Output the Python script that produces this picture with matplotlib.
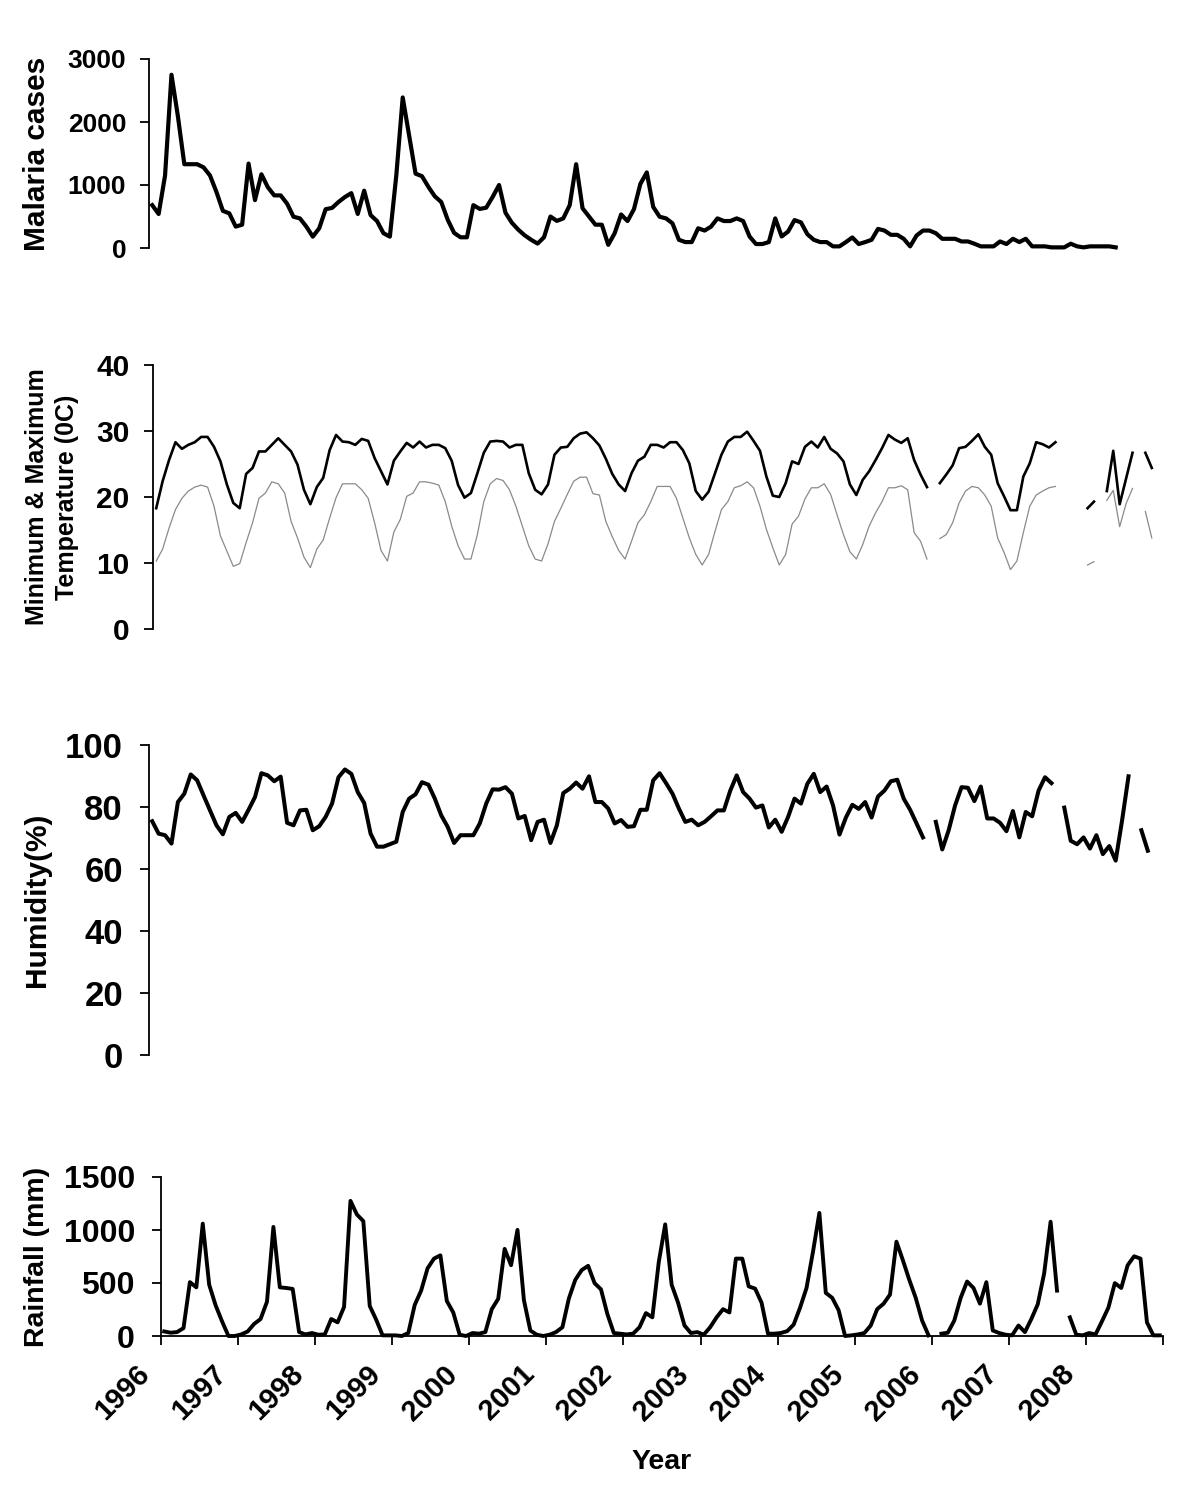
import numpy as np
import matplotlib
matplotlib.use('Agg')
import matplotlib.pyplot as plt

NaN = np.nan

years = [str(y) for y in range(1996, 2009)]

malaria = [680, 540, 1150, 2750, 2090, 1330, 1330, 1330, 1280, 1150,
           890, 590, 550, 340, 370, 1340, 760, 1170, 965, 835,
           835, 704, 496, 470, 339, 180, 313, 616, 636, 730,
           809, 871, 540, 910, 522, 428, 235, 180, 1150, 2390,
           1780, 1180, 1140, 970, 820, 730, 450, 240, 170, 170,
           680, 620, 640, 810, 1000, 560, 400, 290, 200, 130,
           70, 170, 500, 430, 470, 680, 1330, 630, 500, 370,
           370, 50, 235, 532, 428, 616, 1017, 1200, 652, 496,
           470, 391, 130, 94, 94, 313, 277, 339, 470, 428,
           428, 470, 428, 183, 63, 63, 94, 470, 183, 261,
           443, 407, 219, 130, 94, 94, 26, 26, 94, 167,
           63, 94, 130, 303, 277, 209, 209, 146, 26, 198,
           277, 277, 235, 146, 146, 146, 104, 104, 68, 26,
           26, 26, 104, 63, 146, 94, 146, 26, 26, 26,
           10, 10, 10, 68, 26, 10, 26, 26, 26, 26, 10]

tmax = [18.3, 22.4, 25.6, 28.3, 27.3, 27.9, 28.3, 29.1, 29.1, 27.6,
        25.4, 21.9, 19.1, 18.3, 23.5, 24.4, 26.9, 26.9, 27.9, 28.9,
        27.9, 26.9, 24.9, 21.1, 18.9, 21.5, 22.9, 27.1, 29.4, 28.4,
        28.3, 27.9, 28.8, 28.5, 25.9, 23.9, 21.9, 25.5, 26.9, 28.2,
        27.5, 28.4, 27.5, 27.9, 27.9, 27.4, 25.5, 21.8, 19.9, 20.6,
        23.6, 26.7, 28.4, 28.5, 28.4, 27.5, 27.9, 27.9, 23.6, 21.1,
        20.4, 21.9, 26.4, 27.5, 27.6, 28.9, 29.6, 29.8, 28.9,
        27.8, 25.8, 23.5, 21.9, 20.9, 23.6, 25.5, 26.1, 27.9, 27.9,
        27.5, 28.3, 28.3, 27.1, 25.1, 20.9, 19.6, 20.8, 23.6, 26.4,
        28.4, 29.1, 29.1, 29.9, 28.5, 27.0, 23.1, 20.2, 20.0, 22.1,
        25.4, 25.0, 27.6, 28.4, 27.5, 29.1, 27.3, 26.6, 25.4, 21.9,
        20.3, 22.6, 23.9, 25.6, 27.4, 29.4, 28.7, 28.2, 28.9, 25.6,
        23.4, 21.5,
        NaN,
        22.1, 23.4, 24.8, 27.4, 27.6, 28.5, 29.5, 27.6, 26.4, 22.1,
        20.1, 18.0, 18.0, 23.1, 25.1, 28.3, 28.0, 27.5, 28.3,
        NaN, NaN, NaN, NaN,
        18.3, 19.3, NaN, 20.9, 27.0, 18.9, 22.8, 26.7, NaN, 26.7, 24.4]

tmin = [10.3, 12.1, 15.3, 18.1, 19.8, 20.9, 21.5, 21.8, 21.5, 18.6,
        14.1, 11.8, 9.5, 9.9, 13.1, 16.1, 19.8, 20.6, 22.3, 22.0,
        20.6, 16.3, 13.8, 10.9, 9.3, 12.1, 13.5, 16.8, 19.9, 22.0,
        22.0, 22.0, 21.1, 19.8, 16.1, 11.9, 10.3, 14.7, 16.6, 20.1,
        20.6, 22.3, 22.3, 22.1, 21.8, 19.3, 15.6, 12.6, 10.6, 10.6,
        14.3, 19.3, 22.0, 22.8, 22.5, 21.1, 18.6, 15.6, 12.6, 10.6,
        10.3, 12.9, 16.3, 18.3, 20.4, 22.4, 23.0, 23.0, 20.5,
        20.3, 16.3, 14.0, 11.9, 10.6, 13.3, 16.1, 17.3, 19.3, 21.6,
        21.6, 21.6, 19.8, 16.8, 13.8, 11.3, 9.7, 11.3, 14.8, 18.1,
        19.3, 21.4, 21.7, 22.3, 21.4, 18.6, 15.1, 12.3, 9.7, 11.3,
        15.9, 17.1, 19.7, 21.4, 21.4, 22.0, 20.4, 17.3, 14.3, 11.7,
        10.6, 12.8, 15.6, 17.6, 19.3, 21.4, 21.4, 21.7, 21.1, 14.6,
        13.3, 10.6,
        NaN,
        13.7, 14.3, 16.1, 19.1, 20.9, 21.6, 21.4, 20.3, 18.6, 13.8,
        11.6, 9.0, 10.3, 14.6, 18.6, 20.3, 20.9, 21.4, 21.6,
        NaN, NaN, NaN, NaN,
        9.7, 10.2, NaN, 19.5, 21.0, 15.5, 19.0, 21.3, NaN, 17.8, 13.8]

humidity = [75.4, 71.4, 70.9, 68.2, 81.6, 84.3, 90.5, 88.6, 83.7, 78.9,
            74.1, 71.2, 76.8, 78.1, 75.2, 79.1, 83.2, 90.9, 90.2, 88.3,
            89.8, 74.9, 74.1, 78.9, 79.1, 72.5, 73.8, 76.8, 81.1, 89.6,
            92.1, 90.7, 84.8, 81.3, 71.4, 67.2, 67.2, 68.0, 68.8, 78.4,
            82.7, 84.1, 88.0, 87.2, 82.7, 77.3, 73.6, 68.4, 70.9, 70.9,
            70.9, 74.7, 81.1, 85.7, 85.6, 86.4, 84.3, 76.3, 77.1, 69.3,
            75.2, 75.9, 68.4, 74.1, 84.5, 85.9, 87.9, 85.9, 89.9, 81.6,
            81.6, 79.5, 74.7, 75.8, 73.6, 73.8, 79.1, 79.1, 88.6, 90.9,
            87.7, 84.3, 79.5, 75.2, 75.9, 74.1, 75.2, 77.0, 78.9, 78.9,
            85.3, 90.2, 84.8, 82.7, 79.8, 80.5, 73.4, 75.9, 72.0, 76.8,
            82.7, 81.1, 87.5, 90.7, 84.8, 86.6, 80.5, 71.1, 76.6, 80.7,
            79.4, 81.6, 76.6, 83.4, 85.3, 88.3, 88.8, 82.7, 79.1, 74.7,
            70.2,
            NaN,
            75.2, 66.3, 72.5, 80.5, 86.4, 86.2, 81.9, 86.6, 76.3, 76.3,
            74.9, 72.2, 78.7, 70.2, 78.4, 77.0, 85.3, 89.6, 87.7,
            NaN,
            79.8, 69.1, 68.0, 70.2, 66.6, 70.9, 64.8, 67.4, 62.7, 75.7, 89.9,
            NaN,
            72.5, 65.9]

rainfall = [43, 31, 37, 74, 508, 459, 1060, 484, 290, 139,
            0, 0, 15, 43, 114, 160, 323, 1029, 459, 453,
            444, 37, 15, 28, 12, 15, 160, 129, 274, 1275,
            1146, 1084, 283, 154, 6, 6, 6, 0, 28, 293,
            428, 638, 730, 761, 330, 222, 12, 0, 28, 22,
            37, 253, 351, 822, 668, 1001, 339, 52, 12, 0,
            12, 37, 83, 354, 530, 622, 662, 499, 440, 206,
            28, 22, 15, 22, 83, 216, 176, 699, 1053, 484,
            314, 99, 28, 37, 12, 83, 176, 253, 222, 730,
            730, 468, 447, 314, 22, 22, 28, 46, 108, 268,
            453, 792, 1161, 407, 360, 243, 0, 6, 15, 28,
            99, 253, 305, 391, 890, 715, 530, 360, 145, 6,
            NaN, 22, 31, 145, 360, 514, 453, 305, 508, 52,
            28, 12, 6, 99, 37, 160, 299, 591, 1078, 428,
            NaN, 176, 12, 6, 28, 15, 139, 268, 499, 453,
            668, 752, 730, 129, 6, 6]

plt.rcParams['font.family'] = ['Liberation Sans', 'DejaVu Sans']
plt.rcParams['font.weight'] = 'bold'

W, H = 1200, 1505
fig = plt.figure(figsize=(W / 100, H / 100), dpi=100)
fig.patch.set_facecolor('white')
SPAN = 1002


def make_ax(left, top, bottom, labelsize, pad):
    ax = fig.add_axes([left / W, (H - bottom) / H, SPAN / W, (bottom - top) / H])
    for s in ['top', 'right']:
        ax.spines[s].set_visible(False)
    ax.spines['left'].set_linewidth(1.3)
    ax.spines['bottom'].set_linewidth(1.3)
    ax.set_xlim(-0.5, 155.5)
    ax.tick_params(axis='y', direction='out', length=6.3, width=1.3,
                   pad=pad, labelsize=labelsize)
    ax.patch.set_alpha(0)
    return ax


def hide_x(ax):
    ax.spines['bottom'].set_visible(False)
    ax.set_xticks([])


# Malaria
ax1 = make_ax(149, 59, 248, 19, 10)
ax1.plot(np.arange(len(malaria)), malaria, color='black', lw=3.0,
         solid_joinstyle='round', clip_on=False)
ax1.set_ylim(0, 3000)
ax1.set_yticks([0, 1000, 2000, 3000])
hide_x(ax1)

# Temperature
ax2 = make_ax(153, 365, 629, 21.5, 10.5)
ax2.plot(np.arange(len(tmin)), tmin, color='#8a8a8a', lw=0.9)
ax2.plot(np.arange(len(tmax)), tmax, color='black', lw=1.9,
         solid_joinstyle='round')
ax2.set_ylim(0, 40)
ax2.set_yticks([0, 10, 20, 30, 40])
hide_x(ax2)

# Humidity
ax3 = make_ax(149, 745, 1055, 25, 12.5)
ax3.plot(np.arange(len(humidity)), humidity, color='black', lw=2.9,
         solid_joinstyle='round')
ax3.set_ylim(0, 100)
ax3.set_yticks([0, 20, 40, 60, 80, 100])
hide_x(ax3)

# Rainfall
ax4 = make_ax(161, 1177, 1336, 23, 12.5)
ax4.plot(np.arange(len(rainfall)), rainfall, color='black', lw=2.8,
         solid_joinstyle='round', clip_on=False)
ax4.set_ylim(0, 1500)
ax4.set_yticks([0, 500, 1000, 1500])
tick_pos = np.arange(len(years) + 1) * 12 - 0.5
ax4.set_xticks(tick_pos)
ax4.set_xticklabels([])
ax4.tick_params(axis='x', direction='out', length=6.5, width=1.3)
for j, lab in enumerate(years):
    ax4.annotate(lab, xy=(tick_pos[j], 0), xycoords=('data', 'axes fraction'),
                 xytext=(-11.5, -24.5), textcoords='offset points',
                 rotation=45, rotation_mode='anchor', ha='right', va='center',
                 fontsize=21, fontweight='bold')


def ylab(text, xpx, top, bottom, size):
    fig.text(xpx / W, 1 - (top + bottom) / 2 / H, text, rotation=90,
             ha='center', va='center', fontsize=size, fontweight='bold')


ylab('Malaria cases', 37, 59, 248, 21.5)
ylab('Minimum & Maximum', 37, 365, 629, 18)
ylab('Temperature (0C)', 67, 365, 629, 18)
ylab('Humidity(%)', 37, 745, 1055, 21.5)
ylab('Rainfall (mm)', 37, 1177, 1336, 20.5)

fig.text(662 / W, 1 - 1462 / H, 'Year', ha='center', va='center',
         fontsize=20.5, fontweight='bold')

fig.savefig('out.png', dpi=100, facecolor='white')
